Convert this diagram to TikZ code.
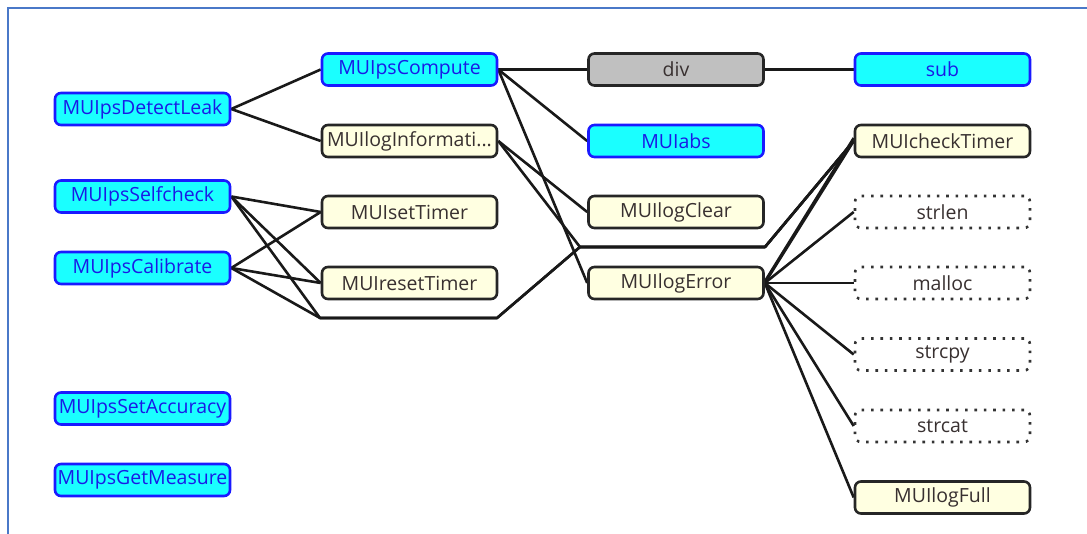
\documentclass[tikz,border=0pt]{standalone}
\usepackage{fontspec}
\setmainfont{Open Sans}
\definecolor{cyanfill}{HTML}{1AFFFF}
\definecolor{bluedraw}{HTML}{1A1AFF}
\definecolor{bluetext}{HTML}{1A1AE6}
\definecolor{yelfill}{HTML}{FFFFE1}
\definecolor{darktext}{HTML}{383030}
\definecolor{grayfill}{HTML}{C0C0C0}
\definecolor{framecol}{HTML}{4A78C8}
\pgfdeclarelayer{background}
\pgfsetlayers{background,main}
\tikzset{
  basebox/.style={rectangle, rounded corners=6pt, minimum width=175pt, minimum height=32pt,
    inner sep=0pt, line width=2.6pt, font=\fontsize{19.5}{22}\selectfont},
  cyanbox/.style={basebox, draw=bluedraw, fill=cyanfill, text=bluetext},
  yelbox/.style={basebox, draw=black!85, fill=yelfill, text=darktext},
  graybox/.style={basebox, draw=black!85, fill=grayfill, text=darktext},
  dotbox/.style={basebox, draw=black!80, fill=white, text=darktext, dash pattern=on 2.6pt off 6.8pt},
  conn/.style={line width=2.6pt, black!90, line join=round},
  framestyle/.style={line width=2.8pt, framecol}
}
\begin{document}
\begin{tikzpicture}[x=1pt,y=-1pt]
\useasboundingbox (0,0) rectangle (1087,534);
\draw[framestyle] (8,534) -- (8,8) -- (1087,8);
% column 1
\node[cyanbox] (detect) at (142.5,109) {MUIpsDetectLeak};
\node[cyanbox] (selfcheck) at (142.5,196.5) {MUIpsSelfcheck};
\node[cyanbox] (calib) at (142.5,268) {MUIpsCalibrate};
\node[cyanbox] (setacc) at (142.5,408.5) {MUIpsSetAccuracy};
\node[cyanbox] (getmeas) at (142.5,480) {MUIpsGetMeasure};
% column 2
\node[cyanbox] (compute) at (409.5,69.5) {MUIpsCompute};
\node[yelbox] (loginfo) at (409.5,141) {MUIlogInformati...};
\node[yelbox] (settimer) at (409.5,212) {MUIsetTimer};
\node[yelbox] (resettimer) at (409.5,283) {MUIresetTimer};
% column 3
\node[graybox] (div) at (676,69.5) {div};
\node[cyanbox] (abs) at (676,141) {MUIabs};
\node[yelbox] (logclear) at (676,212) {MUIlogClear};
\node[yelbox] (logerror) at (676,283) {MUIlogError};
% column 4
\node[cyanbox] (sub) at (942.5,69.5) {sub};
\node[yelbox] (checktimer) at (942.5,141) {MUIcheckTimer};
\node[dotbox] (strlen) at (942.5,212) {strlen};
\node[dotbox] (malloc) at (942.5,283) {malloc};
\node[dotbox] (strcpy) at (942.5,354.5) {strcpy};
\node[dotbox] (strcat) at (942.5,426) {strcat};
\node[yelbox] (logfull) at (942.5,497.5) {MUIlogFull};
% route points
\coordinate (r1) at (320,318);
\coordinate (r2) at (497,318);
\coordinate (r3) at (580,247);
\coordinate (r4) at (765,247);
% connectors
\begin{pgfonlayer}{background}
\draw[conn] (detect.east) -- (compute.west);
\draw[conn] (detect.east) -- (loginfo.west);
\draw[conn] (selfcheck.east) -- (settimer.west);
\draw[conn] (selfcheck.east) -- (resettimer.west);
\draw[conn] (selfcheck.east) -- (r1) -- (r2) -- (r3) -- (r4) -- (checktimer.west);
\draw[conn] (calib.east) -- (settimer.west);
\draw[conn] (calib.east) -- (resettimer.west);
\draw[conn] (calib.east) -- (r1) -- (r2) -- (r3) -- (r4) -- (checktimer.west);
\draw[conn] (compute.east) -- (div.west);
\draw[conn] (compute.east) -- (abs.west);
\draw[conn] (compute.east) -- (logerror.west);
\draw[conn] (div.east) -- (sub.west);
\draw[conn] (loginfo.east) -- (logclear.west);
\draw[conn] (loginfo.east) -- (r3) -- (r4) -- (checktimer.west);
\draw[conn] (logerror.east) -- (checktimer.west);
\draw[conn] ([yshift=1.5pt]logerror.east) -- ([yshift=3pt]checktimer.west);
\draw[conn] (logerror.east) -- (strlen.west);
\draw[conn] (logerror.east) -- (malloc.west);
\draw[conn] (logerror.east) -- (strcpy.west);
\draw[conn] (logerror.east) -- (strcat.west);
\draw[conn] (logerror.east) -- (logfull.west);
\end{pgfonlayer}
\end{tikzpicture}
\end{document}
